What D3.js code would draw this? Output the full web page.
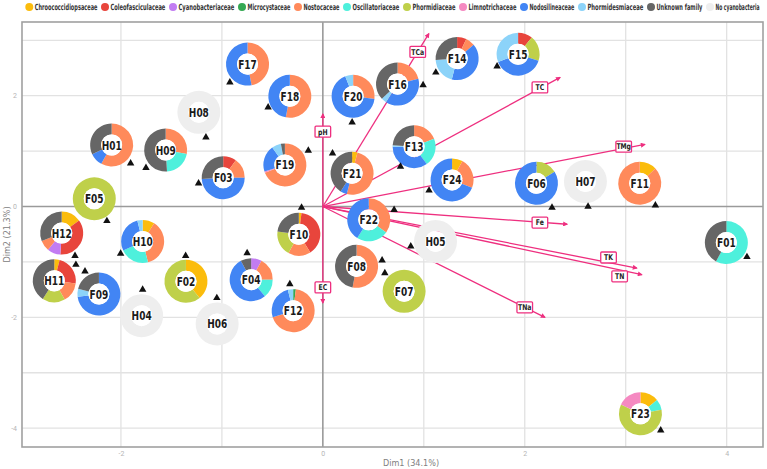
<!DOCTYPE html>
<html><head><meta charset="utf-8">
<script src="https://cdn.jsdelivr.net/npm/d3@7"></script>
<style>
html,body{margin:0;padding:0;background:#fff;}
svg{display:block;}
</style></head>
<body>
<svg id="chart" width="767" height="469"></svg>
<script>
// ---------------- DATA ----------------
const families = ["Chroococcidiopsaceae","Coleofasciculaceae","Cyanobacteriaceae","Microcystaceae","Nostocaceae","Oscillatoriaceae","Phormidiaceae","Limnotrichaceae","Nodosilineaceae","Phormidesmiaceae","Unknown family","No cyanobacteria"];
const familyColors = ["#fbbc0c","#e8453c","#c27cf2","#34a853","#ff8a5b","#4ef0dc","#bfd04a","#f589c1","#4285f4","#8cd3f9","#666666","#eeeeee"];

const samples = ["F01","F02","F03","F04","F05","F06","F07","F08","F09","F10","F11","F12","F13","F14","F15","F16","F17","F18","F19","F20","F21","F22","F23","F24","H01","H04","H05","H06","H07","H08","H09","H10","H11","H12"];
// sample scores (triangles), Dim1 / Dim2
const pointX = [4.201,-1.359,-1.231,-0.750,-2.139,2.270,0.614,0.587,-2.356,-0.211,3.294,-0.327,0.769,1.119,1.726,0.993,-0.921,-0.542,-0.144,0.290,0.096,0.706,3.347,1.052,-1.904,-1.785,0.871,-1.050,2.627,-1.158,-1.752,-2.003,-2.446,-2.455];
const pointY = [-0.91,-0.89,0.42,-0.84,-0.26,-0.02,-1.20,-0.97,-1.17,-0.02,0.02,-1.40,0.72,2.42,2.53,2.19,2.24,1.79,1.01,1.52,0.96,-0.06,-4.04,0.29,0.78,-1.50,-0.72,-1.65,0.00,1.25,0.70,-0.85,-1.05,-0.89];
// donut (label) positions, Dim1 / Dim2
const donutX = [3.997,-1.356,-0.987,-0.710,-2.264,2.116,0.805,0.334,-2.218,-0.238,3.139,-0.294,0.904,1.330,1.934,0.740,-0.746,-0.327,-0.376,0.300,0.290,0.455,3.146,1.280,-2.092,-1.795,1.116,-1.047,2.601,-1.228,-1.557,-1.785,-2.660,-2.587];
const donutY = [-0.65,-1.35,0.52,-1.32,0.14,0.42,-1.53,-1.08,-1.58,-0.50,0.42,-1.88,1.08,2.67,2.75,2.21,2.57,1.99,0.75,1.99,0.60,-0.24,-3.74,0.48,1.11,-1.97,-0.63,-2.12,0.45,1.70,1.02,-0.63,-1.34,-0.48];
// relative abundance per family (order of `families`)
const composition = [
  [0,0,0,0,0,0.58,0,0,0,0,0.42,0],        // F01
  [0.39,0,0,0,0,0,0.61,0,0,0,0,0],        // F02
  [0,0.10,0,0,0.15,0,0,0,0.49,0,0.26,0],  // F03
  [0,0,0.08,0,0.17,0.14,0,0,0.53,0,0.08,0], // F04
  [0,0,0,0,0,0,1,0,0,0,0,0],              // F05
  [0,0,0,0,0,0,0.16,0,0.84,0,0,0],        // F06
  [0,0,0,0,0,0,1,0,0,0,0,0],              // F07
  [0,0,0,0,0.53,0,0,0,0,0,0.47,0],        // F08
  [0,0,0,0,0,0,0,0,0.73,0.06,0.21,0],     // F09
  [0.02,0.39,0,0,0.17,0,0.19,0,0,0,0.23,0], // F10
  [0.13,0,0,0,0.87,0,0,0,0,0,0,0],        // F11
  [0,0,0,0.02,0.68,0,0,0,0.26,0.04,0,0],  // F12
  [0,0,0,0,0.19,0.21,0,0,0.35,0.01,0.24,0], // F13
  [0,0.07,0,0,0.07,0,0,0,0.40,0.20,0.26,0], // F14
  [0,0.11,0,0,0,0,0.19,0,0.39,0.31,0,0],  // F15
  [0,0,0,0,0.21,0,0,0,0.38,0.04,0.37,0],  // F16
  [0,0,0,0,0.47,0,0,0,0.53,0,0,0],        // F17
  [0,0,0,0,0.53,0,0,0,0.47,0,0,0],        // F18
  [0,0,0,0,0.69,0,0,0.01,0.20,0.07,0.03,0], // F19
  [0,0,0,0,0.27,0,0,0,0.67,0.06,0,0],     // F20
  [0.04,0,0,0,0.50,0,0,0,0.05,0,0.41,0],  // F21
  [0,0,0,0,0.35,0.24,0,0,0.41,0,0,0],     // F22
  [0.14,0,0,0,0,0.08,0.60,0.18,0,0,0,0],  // F23
  [0.08,0,0,0,0.23,0,0,0,0.69,0,0,0],     // F24
  [0,0,0,0,0.58,0,0,0,0.10,0,0.32,0],     // H01
  [0,0,0,0,0,0,0,0,0,0,0,1],              // H04
  [0,0,0,0,0,0,0,0,0,0,0,1],              // H05
  [0,0,0,0,0,0,0,0,0,0,0,1],              // H06
  [0,0,0,0,0,0,0,0,0,0,0,1],              // H07
  [0,0,0,0,0,0,0,0,0,0,0,1],              // H08
  [0,0,0,0,0.28,0.21,0,0,0,0,0.51,0],     // H09
  [0.09,0,0,0,0.37,0.22,0,0,0.28,0.04,0,0], // H10
  [0.04,0.23,0,0,0.15,0,0.17,0,0,0,0.41,0], // H11
  [0.15,0.36,0.10,0,0.08,0,0,0,0,0,0.31,0]  // H12
];

// environmental variables (arrows)
const variables = ["pH","EC","TCa","TC","TMg","Fe","TK","TN","TNa"];
const varX = [0,0,1.05,2.35,3.19,2.42,3.11,3.16,2.20];
const varY = [1.67,-1.74,3.12,2.33,1.12,-0.32,-1.11,-1.23,-2.00];
const varLabelX = [0,0,0.94,2.15,2.98,2.15,2.83,2.94,2.00];
const varLabelY = [1.35,-1.46,2.79,2.15,1.08,-0.29,-0.92,-1.26,-1.82];

const xTicks = [-2,0,2,4];
const yTicks = [-4,-2,0,2];
const xGrid = [-2,-1,1,2,3,4];
const yGrid = [-4,-3,-2,-1,1,2,3];
const xTitle = "Dim1 (34.1%)";
const yTitle = "Dim2 (21.3%)";

// ---------------- LAYOUT ----------------
const svg = d3.select("#chart");
const L = 22, R = 763, T = 22, B = 447;
const x = d3.scaleLinear().domain([-2.98, 4.36]).range([L, R]);
const y = d3.scaleLinear().domain([-4.34, 3.33]).range([B, T]);
const narrow = "'Liberation Sans Narrow','DejaVu Sans Condensed','Arial Narrow',sans-serif";
const pink = "#ee2f7f";

// grid
const g = svg.append("g");
g.selectAll(".vg").data(xGrid).join("line")
  .attr("x1", d => x(d)).attr("x2", d => x(d)).attr("y1", T).attr("y2", B)
  .attr("stroke", "#e2e2e2").attr("stroke-width", 1.3);
g.selectAll(".hg").data(yGrid).join("line")
  .attr("y1", d => y(d)).attr("y2", d => y(d)).attr("x1", L).attr("x2", R)
  .attr("stroke", "#e2e2e2").attr("stroke-width", 1.3);
// zero lines
g.append("line").attr("x1", x(0)).attr("x2", x(0)).attr("y1", T).attr("y2", B)
  .attr("stroke", "#9a9a9a").attr("stroke-width", 1.6);
g.append("line").attr("y1", y(0)).attr("y2", y(0)).attr("x1", L).attr("x2", R)
  .attr("stroke", "#9a9a9a").attr("stroke-width", 1.6);
// border
g.append("rect").attr("x", L).attr("y", T).attr("width", R - L).attr("height", B - T)
  .attr("fill", "none").attr("stroke", "#a0a0a0").attr("stroke-width", 1.6);

// axes (tick labels only)
const fmt = d => String(d);
const xAxis = d3.axisBottom(x).tickValues(xTicks).tickSize(0).tickPadding(4).tickFormat(fmt);
const yAxis = d3.axisLeft(y).tickValues(yTicks).tickSize(0).tickPadding(5).tickFormat(fmt);
const gx = svg.append("g").attr("transform", `translate(0,${B})`).call(xAxis);
const gy = svg.append("g").attr("transform", `translate(${L},0)`).call(yAxis);
[gx, gy].forEach(a => {
  a.select(".domain").remove();
  a.selectAll("text").attr("fill", "#b5b5b5").attr("font-size", 7).attr("font-family", "Roboto, sans-serif");
});
svg.append("text").attr("x", 411).attr("y", 466).attr("text-anchor", "middle")
  .attr("font-family", narrow).attr("font-size", 9).attr("fill", "#808080").text(xTitle);
svg.append("text").attr("transform", `translate(10,${(T + B) / 2}) rotate(-90)`).attr("text-anchor", "middle")
  .attr("font-family", narrow).attr("font-size", 9).attr("fill", "#808080").text(yTitle);

// arrows
const defs = svg.append("defs");
defs.append("marker").attr("id", "ah").attr("viewBox", "0 0 10 10").attr("refX", 8).attr("refY", 5)
  .attr("markerWidth", 6).attr("markerHeight", 5).attr("markerUnits", "userSpaceOnUse").attr("orient", "auto")
  .append("path").attr("d", "M0,0L10,5L0,10Z").attr("fill", pink);
const arrows = variables.map((v, i) => ({v, x: varX[i], y: varY[i], lx: varLabelX[i], ly: varLabelY[i]}));
svg.append("g").selectAll("line").data(arrows).join("line")
  .attr("x1", x(0)).attr("y1", y(0)).attr("x2", d => x(d.x)).attr("y2", d => y(d.y))
  .attr("stroke", pink).attr("stroke-width", 1.3).attr("marker-end", "url(#ah)");

// donuts
const pie = d3.pie().sort(null).value(d => d);
const arc = d3.arc().innerRadius(10.5).outerRadius(21.5);
const donuts = samples.map((s, i) => ({s, cx: donutX[i], cy: donutY[i], comp: composition[i]}));
const dg = svg.append("g").selectAll("g").data(donuts).join("g")
  .attr("transform", d => `translate(${x(d.cx)},${y(d.cy)})`);
dg.selectAll("path").data(d => pie(d.comp).map((p, k) => ({p, k})).filter(e => e.p.value > 0)).join("path")
  .attr("d", e => arc(e.p)).attr("fill", e => familyColors[e.k]);
dg.append("circle").attr("r", 10.5).attr("fill", "#fff");
dg.append("text").attr("text-anchor", "middle").attr("dy", "0.36em")
  .attr("transform", "scale(0.8,1)")
  .attr("font-family", narrow).attr("font-weight", "bold").attr("font-size", 12.5).attr("fill", "#1a1a1a")
  .text(d => d.s);

// arrow labels
const lg = svg.append("g").selectAll("g").data(arrows).join("g")
  .attr("transform", d => `translate(${x(d.lx)},${y(d.ly)})`);
lg.append("rect").attr("x", -7.8).attr("y", -5.5).attr("width", 15.6).attr("height", 11).attr("rx", 1)
  .attr("fill", "#fff").attr("stroke", pink).attr("stroke-width", 1.3);
lg.append("text").attr("text-anchor", "middle").attr("dy", "0.35em").attr("transform", "scale(0.85,1)")
  .attr("font-family", narrow).attr("font-weight", "bold").attr("font-size", 8).attr("fill", "#222")
  .text(d => d.v);

// sample points (triangles)
const tri = d3.symbol().type(d3.symbolTriangle).size(24);
svg.append("g").selectAll("path").data(samples.map((s, i) => ({x: pointX[i], y: pointY[i]}))).join("path")
  .attr("d", tri).attr("transform", d => `translate(${x(d.x)},${y(d.y)})`).attr("fill", "#111");

// legend
const legendCx = [29.3,105,173,242,298,347,407,463,524,582,651,710];
const leg = svg.append("g").selectAll("g").data(families).join("g")
  .attr("transform", (d, i) => `translate(${legendCx[i]},7)`);
leg.append("circle").attr("r", 4).attr("fill", (d, i) => familyColors[i]);
leg.append("text").attr("x", 5.5).attr("dy", "0.36em")
  .attr("font-family", narrow).attr("font-weight", "bold").attr("font-size", 8.5).attr("fill", "#333")
  .text(d => d)
  .each(function(d, i) {
    const target = i < families.length - 1 ? legendCx[i + 1] - legendCx[i] - 13 : 44;
    const w = this.getComputedTextLength();
    const s = Math.min(1, target / w);
    d3.select(this).attr("x", 5.5 / s).attr("transform", `scale(${s},1)`);
  });
</script>
</body></html>
